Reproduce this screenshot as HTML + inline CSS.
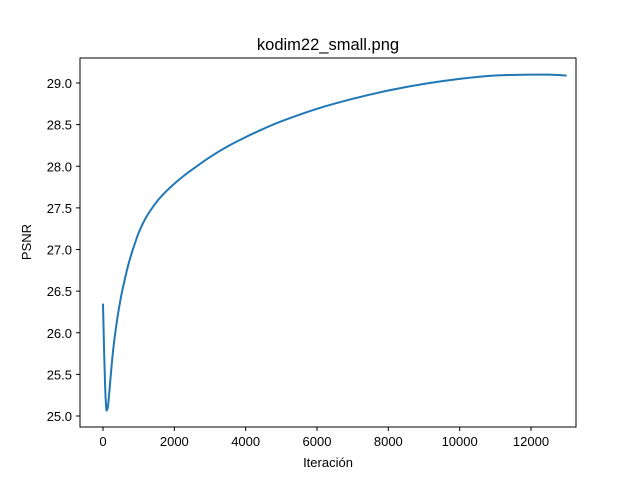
<!DOCTYPE html>
<html><head><meta charset="utf-8"><style>
body{margin:0;background:#fff;}
svg{display:block;font-family:"Liberation Sans","DejaVu Sans",sans-serif;}
</style></head><body>
<svg id="chart" width="640" height="480">
<rect width="640" height="480" fill="#fff"/>
<text x="328" y="50" font-size="16.5" text-anchor="middle">kodim22_small.png</text>
<g id="ticks"></g>
<path id="line" fill="none" stroke="#1f77b4" stroke-width="2" stroke-linejoin="round"/>
<rect x="80" y="58" width="496" height="369" fill="none" stroke="#000" stroke-width="1"/>
<text x="328" y="467" font-size="13" text-anchor="middle">Iteración</text>
<text x="31" y="242" font-size="13" text-anchor="middle" transform="rotate(-90 31 242)">PSNR</text>
</svg>
<script>
const iterations=[0,30,60,90,110,140,180,240,300,400,500,600,700,800,900,1000,1200,1500,1750,2000,2250,2500,3000,3500,4000,4500,5000,6000,7000,8000,9000,10000,11000,12000,12500,13000];
const psnr=[26.35,25.8,25.35,25.1,25.07,25.12,25.3,25.6,25.85,26.17,26.42,26.62,26.8,26.95,27.08,27.2,27.38,27.57,27.69,27.79,27.88,27.96,28.11,28.24,28.35,28.45,28.54,28.69,28.81,28.91,28.99,29.05,29.09,29.1,29.1,29.09];
const xTicks=[0,2000,4000,6000,8000,10000,12000];
const yTicks=[25.0,25.5,26.0,26.5,27.0,27.5,28.0,28.5,29.0];
function sx(v){return 103+v*(531-103)/12000;}
function sy(v){return 416-(v-25)*(416-83)/4;}
const ns="http://www.w3.org/2000/svg";
const g=document.getElementById('ticks');
xTicks.forEach(t=>{
 const l=document.createElementNS(ns,'line');
 l.setAttribute('x1',sx(t));l.setAttribute('x2',sx(t));l.setAttribute('y1',427);l.setAttribute('y2',431);l.setAttribute('stroke','#000');
 
 
 g.appendChild(l);
 const tx=document.createElementNS(ns,'text');
 tx.setAttribute('x',sx(t));tx.setAttribute('y',446);tx.setAttribute('font-size','13');tx.setAttribute('text-anchor','middle');
 tx.textContent=t;
 
 
 g.appendChild(tx);
});
yTicks.forEach(t=>{
 const l=document.createElementNS(ns,'line');
 l.setAttribute('x1',76);l.setAttribute('x2',80);l.setAttribute('y1',sy(t));l.setAttribute('y2',sy(t));l.setAttribute('stroke','#000');
 
 
 g.appendChild(l);
 const tx=document.createElementNS(ns,'text');
 tx.setAttribute('x',72);tx.setAttribute('y',sy(t)+5);tx.setAttribute('font-size','13');tx.setAttribute('text-anchor','end');
 tx.textContent=t.toFixed(1);
 
 
 g.appendChild(tx);
});
const P=iterations.map((v,i)=>[sx(v),sy(psnr[i])]);
let d='M'+P[0][0]+','+P[0][1];
for(let i=0;i<P.length-1;i++){
 const p0=P[Math.max(0,i-1)],p1=P[i],p2=P[i+1],p3=P[Math.min(P.length-1,i+2)];
 const c1=[p1[0]+(p2[0]-p0[0])/6,p1[1]+(p2[1]-p0[1])/6];
 const c2=[p2[0]-(p3[0]-p1[0])/6,p2[1]-(p3[1]-p1[1])/6];
 d+=' C'+c1.join(',')+' '+c2.join(',')+' '+p2.join(',');
}
document.getElementById('line').setAttribute('d',d);
</script>
</body></html>
